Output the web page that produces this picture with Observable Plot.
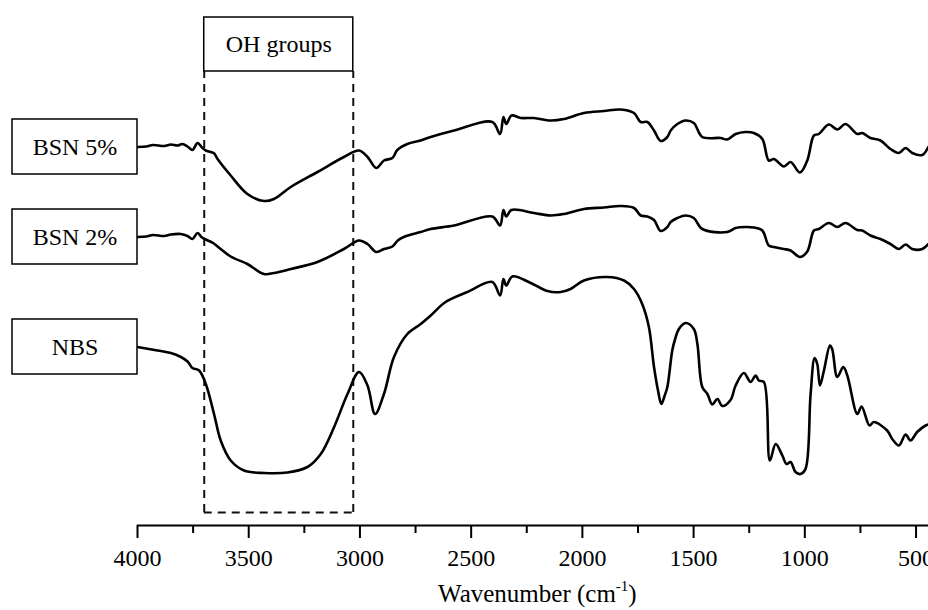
<!DOCTYPE html>
<html><head><meta charset="utf-8">
<script src="https://cdn.jsdelivr.net/npm/d3@7"></script>
<script src="https://cdn.jsdelivr.net/npm/@observablehq/plot@0.6"></script>
<style>html,body{margin:0;padding:0;background:#fff;overflow:hidden}</style>
</head><body><div id="chart"></div>
<script>
// Series names (label boxes)
const seriesNames = ["BSN 5%", "BSN 2%", "NBS"];

// [wavenumber (cm-1), transmittance (a.u., offset)]
const bsn5 = [[4000,75.7],[3960,75.8],[3930,76.1],[3880,75.9],[3850,76.2],[3820,76.0],[3798,76.3],[3775,75.8],[3753,75.1],[3730,76.5],[3710,75.6],[3693,75.0],[3671,74.7],[3655,74.4],[3640,73.3],[3581,70.0],[3506,66.3],[3431,64.9],[3387,65.3],[3311,67.7],[3191,70.7],[3072,73.7],[3004,75.0],[2966,73.7],[2926,71.5],[2892,73.0],[2854,73.5],[2832,75.1],[2787,76.3],[2727,77.0],[2682,77.7],[2577,79.0],[2405,80.7],[2370,78.3],[2355,81.7],[2342,80.3],[2319,82.0],[2277,81.5],[2218,81.5],[2143,81.0],[2083,81.3],[1993,82.5],[1903,82.9],[1828,83.2],[1768,82.5],[1738,80.7],[1708,80.7],[1678,79.0],[1648,76.9],[1618,77.7],[1603,79.0],[1573,80.3],[1536,81.0],[1499,80.5],[1461,77.7],[1379,77.5],[1349,77.2],[1311,78.3],[1266,78.7],[1229,78.5],[1191,77.3],[1162,73.0],[1139,73.3],[1094,71.8],[1064,72.7],[1022,70.6],[989,73.0],[959,78.0],[937,78.3],[892,80.2],[854,79.2],[817,80.3],[764,78.3],[742,78.5],[705,77.5],[660,77.0],[615,75.3],[577,74.5],[547,75.5],[517,74.5],[472,74.1],[445,75.7]];

const bsn2 = [[4000,57.7],[3960,57.8],[3930,58.1],[3880,57.9],[3850,58.2],[3805,58.3],[3775,57.9],[3753,57.3],[3730,58.5],[3710,57.6],[3693,57.2],[3660,56.5],[3640,55.8],[3581,53.8],[3506,52.3],[3431,50.3],[3387,50.5],[3311,51.3],[3191,52.7],[3072,55.3],[3004,57.0],[2966,56.3],[2926,54.7],[2892,55.3],[2854,55.8],[2830,57.0],[2803,57.7],[2727,58.7],[2682,59.3],[2577,60.0],[2405,61.8],[2370,60.0],[2355,63.1],[2342,61.8],[2319,63.1],[2218,62.5],[2143,62.0],[2083,62.3],[1993,63.3],[1903,63.6],[1828,63.9],[1768,63.5],[1738,62.0],[1708,61.8],[1678,61.1],[1648,58.9],[1618,59.7],[1603,60.7],[1573,61.5],[1536,62.0],[1499,61.5],[1461,59.3],[1349,58.7],[1311,59.5],[1266,59.7],[1229,59.6],[1191,59.0],[1162,56.0],[1139,55.7],[1094,55.3],[1064,55.0],[1022,53.7],[989,54.8],[959,59.0],[937,59.3],[892,60.5],[854,59.7],[817,60.5],[764,59.1],[742,59.0],[705,58.0],[660,57.3],[615,56.3],[577,55.3],[547,56.2],[517,55.3],[472,55.3],[445,56.3]];

const nbs = [[4000,35.7],[3910,35.0],[3850,34.5],[3805,33.7],[3775,32.8],[3753,31.5],[3723,31.0],[3693,28.3],[3656,22.3],[3626,17.0],[3581,13.0],[3521,11.0],[3431,10.5],[3326,10.6],[3236,11.7],[3176,14.3],[3116,19.7],[3056,26.3],[3004,30.7],[2966,28.0],[2932,22.3],[2892,26.3],[2847,33.7],[2787,38.3],[2727,40.3],[2682,42.0],[2615,44.7],[2517,46.7],[2405,48.7],[2370,46.0],[2355,49.3],[2342,48.0],[2315,49.8],[2232,48.5],[2157,46.9],[2098,46.7],[2053,47.3],[1993,49.0],[1888,49.7],[1813,49.0],[1768,47.3],[1731,44.3],[1701,39.7],[1678,31.7],[1660,27.0],[1645,24.3],[1630,26.0],[1618,27.7],[1596,35.0],[1585,37.0],[1566,39.3],[1536,40.5],[1499,39.3],[1483,36.3],[1461,27.7],[1438,26.3],[1416,24.2],[1393,25.3],[1371,23.9],[1334,25.1],[1311,28.0],[1274,30.5],[1244,28.7],[1221,30.0],[1207,29.0],[1184,28.7],[1157,13.0],[1131,16.3],[1101,14.0],[1082,12.3],[1064,12.7],[1042,10.7],[1019,10.3],[997,11.3],[974,26.3],[956,33.5],[944,32.3],[932,28.0],[914,31.0],[887,36.0],[877,35.3],[854,29.7],[827,31.7],[809,30.0],[764,22.3],[745,23.8],[709,20.0],[690,20.7],[630,19.0],[607,17.3],[577,16.0],[547,18.2],[525,17.0],[495,18.7],[457,20.0],[445,20.2]];

const majorTicks = [4000, 3500, 3000, 2500, 2000, 1500, 1000, 500];
const minorTicks = [3750, 3250, 2750, 2250, 1750, 1250, 750];
const ohRegion = [3700, 3030];
const ohLabel = ["OH groups"];
const axisTitle = ["Wavenumber (cm", "-1", ")"];

const seriesData = [bsn5, bsn2, nbs];
const rows = [];
seriesData.forEach((arr, i) => arr.forEach(([wn, t]) => rows.push({series: seriesNames[i], wn, t})));
const labelRows = seriesData.map((arr, i) => ({series: seriesNames[i], t: arr[0][1]}));

const font = "'Liberation Serif', 'Times New Roman', serif";

const plot = Plot.plot({
  width: 928, height: 610,
  marginLeft: 137, marginRight: 0, marginTop: 0, marginBottom: 85,
  x: {domain: [4000, 444], label: null},
  y: {domain: [0, 105], axis: null},
  style: {fontFamily: font, fontSize: "24px", background: "#fff", color: "#000", overflow: "hidden"},
  marks: [
    Plot.ruleX(ohRegion, {y1: 2.6, y2: 90.8, stroke: "#111", strokeWidth: 2, strokeDasharray: "8,6"}),
    Plot.ruleY([2.6], {x1: ohRegion[0], x2: ohRegion[1], stroke: "#111", strokeWidth: 2, strokeDasharray: "8,6"}),
    Plot.rect(ohLabel, {x1: ohRegion[0], x2: ohRegion[1], y1: 90.8, y2: 101.6, fill: "#fff", stroke: "#000", strokeWidth: 1.5}),
    Plot.text(ohLabel, {x: (ohRegion[0] + ohRegion[1]) / 2, y: 96.2, text: d => d, fontSize: 24, fill: "#000"}),
    Plot.line(rows, {x: "wn", y: "t", z: "series", curve: "catmull-rom", stroke: "#000", strokeWidth: 2.6}),
    Plot.rect(labelRows, {x1: 4562, x2: 4000, y1: d => d.t - 5.5, y2: d => d.t + 5.5, fill: "#fff", stroke: "#000", strokeWidth: 1.5}),
    Plot.text(labelRows, {x: 4281, y: "t", text: "series", fontSize: 24, fill: "#000"}),
    Plot.ruleY([0], {stroke: "#000", strokeWidth: 2}),
    Plot.axisX(majorTicks, {anchor: "bottom", tickSize: 13, tickPadding: 10, tickFormat: d => String(d), strokeWidth: 2, fontSize: 24, label: null}),
    Plot.axisX(minorTicks, {anchor: "bottom", tickSize: 8, tickFormat: () => "", strokeWidth: 2, label: null})
  ]
});

document.getElementById("chart").appendChild(plot);

// Axis title with superscript
const xs = plot.scale("x");
const title = d3.select(plot).append("text")
  .attr("x", xs.apply(2200)).attr("y", 602)
  .attr("text-anchor", "middle")
  .attr("font-family", font).attr("font-size", 25).attr("fill", "#000");
title.append("tspan").text(axisTitle[0]);
title.append("tspan").attr("font-size", 15).attr("dy", -11).text(axisTitle[1]);
title.append("tspan").attr("dy", 11).text(axisTitle[2]);
</script>
</body></html>
